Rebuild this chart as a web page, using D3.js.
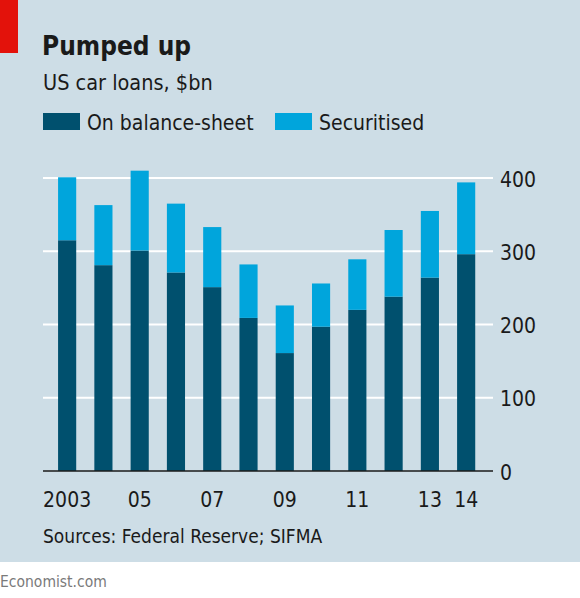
<!DOCTYPE html>
<html>
<head>
<meta charset="utf-8">
<script src="https://cdn.jsdelivr.net/npm/d3@7"></script>
<style>
  html, body { margin: 0; padding: 0; background: #ffffff; }
  svg { display: block; }
  text { font-family: "DejaVu Sans Condensed", "Liberation Sans Narrow", "Roboto", sans-serif; }
</style>
</head>
<body>
<script>
// ---- data ----
const years = ["2003","2004","2005","2006","2007","2008","2009","2010","2011","2012","2013","2014"];
const onBalanceSheet = [315, 281, 301, 271, 251, 209, 161, 197, 220, 238, 264, 296];
const securitised = [86, 82, 109, 94, 82, 73, 65, 59, 69, 91, 91, 98];
const yTicks = [0, 100, 200, 300, 400];
const xTickYears = ["2003","2005","2007","2009","2011","2013","2014"];
const xTickLabels = ["2003","05","07","09","11","13","14"];
const seriesNames = ["On balance-sheet", "Securitised"];

// ---- styles ----
const W = 580, H = 598;
const bg = "#cddde6";
const darkBlue = "#00506e";
const lightBlue = "#00a5dc";
const textColor = "#1a1a1a";
const font = '"DejaVu Sans Condensed", "Liberation Sans Narrow", sans-serif';

const svg = d3.select("body").append("svg").attr("width", W).attr("height", H);

// background panel
svg.append("rect").attr("x", 0).attr("y", 0).attr("width", W).attr("height", 562).attr("fill", bg);
// red tab
svg.append("rect").attr("x", 0).attr("y", 0).attr("width", 18).attr("height", 53).attr("fill", "#e3120b");

// title & subtitle
svg.append("text").attr("x", 42).attr("y", 55).attr("font-size", 26).attr("font-weight", "bold")
  .attr("fill", textColor).text("Pumped up");
svg.append("text").attr("x", 43).attr("y", 90).attr("font-size", 21.5)
  .attr("fill", textColor).text("US car loans, $bn");

// legend
const legendX = [43, 275];
const legendColors = [darkBlue, lightBlue];
seriesNames.forEach((name, i) => {
  svg.append("rect").attr("x", legendX[i]).attr("y", 113).attr("width", 37).attr("height", 17).attr("fill", legendColors[i]);
  svg.append("text").attr("x", legendX[i] + 44).attr("y", 130).attr("font-size", 21)
    .attr("fill", textColor).text(name);
});

// scales
const x = d3.scaleBand().domain(years).range([49, 484.3]).paddingInner(0.5).paddingOuter(0.25);
const y = d3.scaleLinear().domain([0, 400]).range([471, 178]);

// gridlines
svg.append("g").selectAll("line").data(yTicks.filter(d => d > 0)).join("line")
  .attr("x1", 43).attr("x2", 493)
  .attr("y1", d => y(d)).attr("y2", d => y(d))
  .attr("stroke", "#ffffff").attr("stroke-width", 2);

// stacked bars
const stackData = years.map((yr, i) => ({ year: yr, on: onBalanceSheet[i], sec: securitised[i] }));
const stack = d3.stack().keys(["on", "sec"])(stackData);
const colors = { on: darkBlue, sec: lightBlue };
svg.append("g").selectAll("g").data(stack).join("g")
  .attr("fill", d => colors[d.key])
  .selectAll("rect").data(d => d).join("rect")
  .attr("x", d => x(d.data.year))
  .attr("width", x.bandwidth())
  .attr("y", d => y(d[1]))
  .attr("height", d => y(d[0]) - y(d[1]));

// zero line
svg.append("line").attr("x1", 43).attr("x2", 493).attr("y1", y(0)).attr("y2", y(0))
  .attr("stroke", "#1a1a1a").attr("stroke-width", 1.5);

// right axis labels
const yAxis = d3.axisRight(y).tickValues(yTicks).tickSize(0).tickPadding(0);
const yg = svg.append("g").attr("transform", "translate(500,1.5)").call(yAxis);
yg.select(".domain").remove();
yg.selectAll("text").attr("font-size", 21).attr("fill", textColor).style("font-family", font);

// x axis labels
const xAxis = d3.axisBottom(x).tickValues(xTickYears)
  .tickFormat(d => xTickLabels[xTickYears.indexOf(d)]).tickSize(0).tickPadding(0);
const xg = svg.append("g").attr("transform", "translate(0,492)").call(xAxis);
xg.select(".domain").remove();
xg.selectAll("text").attr("font-size", 21).attr("fill", textColor).attr("dy", "0.71em").style("font-family", font);

// source
svg.append("text").attr("x", 43).attr("y", 543).attr("font-size", 19)
  .attr("fill", textColor).text("Sources: Federal Reserve; SIFMA");

// footer
svg.append("text").attr("x", 0).attr("y", 587).attr("font-size", 15.5)
  .attr("fill", "#7a7a7a").text("Economist.com");
</script>
</body>
</html>
